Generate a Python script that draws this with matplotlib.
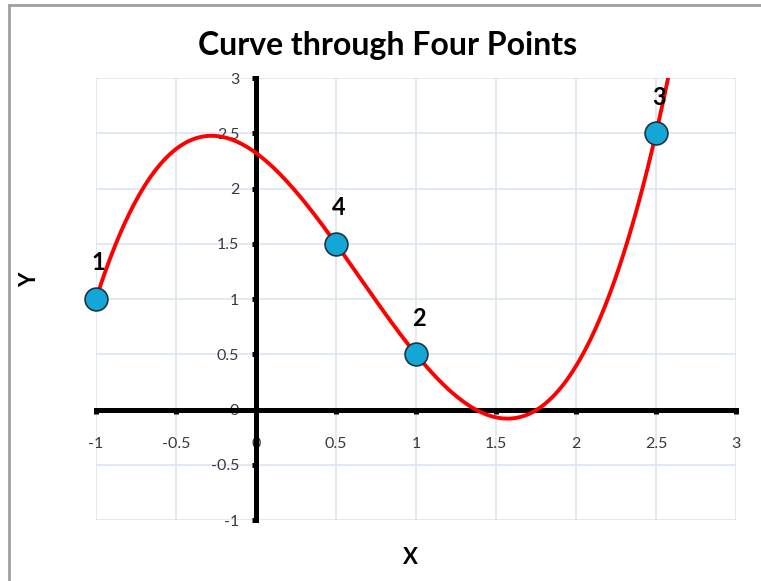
import numpy as np
import matplotlib
matplotlib.use('Agg')
import matplotlib.pyplot as plt
from matplotlib.lines import Line2D

# the four points, numbered in the order they were picked
pt_x = [-1, 1, 2.5, 0.5]
pt_y = [1, 0.5, 2.5, 1.5]
pt_labels = ['1', '2', '3', '4']

x_ticks = [-1, -0.5, 0, 0.5, 1, 1.5, 2, 2.5, 3]
y_ticks = [-1, -0.5, 0, 0.5, 1, 1.5, 2, 2.5, 3]

plt.rcParams['font.family'] = ['Lato', 'DejaVu Sans']

fig = plt.figure(figsize=(7.61, 5.81), dpi=100, facecolor='w')
ax = fig.add_axes([96/761, 1 - 520/581, 640/761, 442/581])

# cubic that passes through all four points
coef = np.polyfit(pt_x, pt_y, 3)
xs = np.linspace(-1, 3, 400)
ax.plot(xs, np.polyval(coef, xs), color='#ff0000', lw=2.8, zorder=3)

ax.scatter(pt_x, pt_y, s=270, color='#14a6d6', edgecolors='#1c3340',
           linewidths=1.2, zorder=4, clip_on=False)
for x, y, t in zip(pt_x, pt_y, pt_labels):
    ax.annotate(t, (x, y), xytext=(2, 26), textcoords='offset points',
                ha='center', va='center', fontsize=17, fontweight='bold')

ax.set_xlim(-1, 3)
ax.set_ylim(-1, 3)
ax.set_xticks(x_ticks)
ax.set_yticks(y_ticks)
ax.set_xticklabels([('%g' % v) for v in x_ticks])
ax.set_yticklabels([('%g' % v) for v in y_ticks])

ax.grid(True, color='#dce6f2', lw=1.2)
ax.set_axisbelow(True)
for l in ax.get_xgridlines() + ax.get_ygridlines():
    l.set_clip_on(False)

for s in ['top', 'right']:
    ax.spines[s].set_visible(False)
ax.spines['left'].set_position(('data', 0))
ax.spines['bottom'].set_position(('data', 0))
ax.spines['left'].set_linewidth(3.6)
ax.spines['bottom'].set_linewidth(3.6)

ax.tick_params(axis='x', length=3, width=3.6, pad=17, labelsize=11.5,
               labelcolor='#3a3a3a')
ax.tick_params(axis='y', length=3, width=3.6, pad=9, labelsize=11.5,
               labelcolor='#3a3a3a')

fig.text(388/761, 1 - 45/581, 'Curve through Four Points', ha='center',
         va='center', fontsize=23, fontweight='bold')
fig.text(30/761, 1 - 280/581, 'Y', ha='center', va='center', rotation=90,
         fontsize=16, fontweight='bold')
fig.text(410/761, 1 - 557/581, 'X', ha='center', va='center',
         fontsize=16, fontweight='bold')

# frame around the chart
fig.add_artist(Line2D([9/761, 1], [1 - 4.5/581, 1 - 4.5/581],
                      transform=fig.transFigure, color='#a0a0a0', lw=2))
fig.add_artist(Line2D([9/761, 9/761], [0, 1 - 4.5/581],
                      transform=fig.transFigure, color='#a0a0a0', lw=2))

fig.savefig('out.png', dpi=100, facecolor='w')
